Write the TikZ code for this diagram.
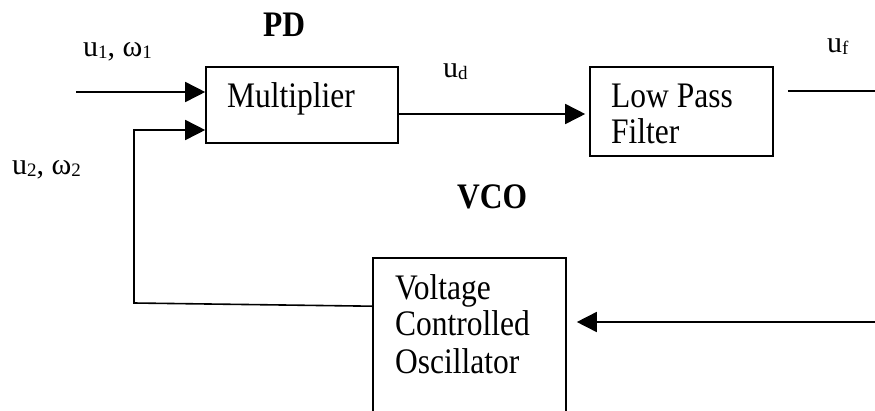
\documentclass[tikz,border=0pt]{standalone}
\usepackage{fontspec}
\setmainfont{Liberation Serif}
\usetikzlibrary{arrows.meta,calc}
\newcommand{\vtxt}[1]{\scalebox{1}[1.14]{#1}}
\newcommand{\sbs}[1]{\raisebox{-2pt}{\fontsize{19}{19}\selectfont #1}}
\tikzset{
  box/.style={draw, line width=1.6pt, inner sep=0pt, rectangle},
  txt/.style={anchor=base west, inner sep=0pt, font=\fontsize{31.5}{37}\selectfont},
  lbl/.style={anchor=base west, inner sep=0pt, font=\fontsize{30}{35}\selectfont},
  ttl/.style={anchor=base west, inner sep=0pt, font=\fontsize{31.5}{37}\selectfont\bfseries},
  wire/.style={line width=1.6pt},
  arr/.style={wire, -{Triangle[length=20pt,width=20pt]}}
}
\begin{document}
\begin{tikzpicture}[x=1pt,y=-1pt]
\clip (0,0) rectangle (875,410);
\fill[white] (0,0) rectangle (875,410);
% boxes
\node[box, minimum width=192pt, minimum height=76pt] (mult) at (302,105) {};
\node[box, minimum width=183pt, minimum height=89pt] (lpf) at (681.5,111.5) {};
\node[box, minimum width=193pt, minimum height=172pt] (vco) at (469.5,344) {};
% box texts
\node[txt] (multt) at (227,107) {\vtxt{Multiplier}};
\node[txt] (lpft1) at (611,107) {\vtxt{Low Pass}};
\node[txt] (lpft2) at (611,143) {\vtxt{Filter}};
\node[txt] (vcot1) at (395,299) {\vtxt{Voltage}};
\node[txt] (vcot2) at (395,335) {\vtxt{Controlled}};
\node[txt] (vcot3) at (395,373) {\vtxt{Oscillator}};
% titles
\node[ttl] (pd) at (263,36) {\vtxt{PD}};
\node[ttl] (vcol) at (457,208) {\vtxt{VCO}};
% labels
\node[lbl] (l1) at (83,56) {u\sbs{1}, ω\sbs{1}};
\node[lbl] (l2) at (12,174) {u\sbs{2}, ω\sbs{2}};
\node[lbl] (ld) at (443,77) {u\sbs{d}};
\node[lbl] (lf) at (827,52) {u\sbs{f}};
% coordinates
\coordinate (in1) at (76,92);
\coordinate (fbout) at ($(vco.north west)+(0,49)$);
\coordinate (fb1) at (134,303);
\coordinate (fb2) at (134,130);
\coordinate (uout) at (875,91);
\coordinate (vin) at (875,322);
% connectors
\draw[arr] (in1) -- (mult.west |- in1);
\draw[arr] (fbout) -- (fb1) -- (fb2) -- (mult.west |- fb2);
\draw[arr] (mult.east |- 0,114) -- ($(lpf.west |- 0,114)+(-4,0)$);
\draw[wire] ($(lpf.east |- uout)+(14,0)$) -- (uout);
\draw[arr] (vin) -- ($(vco.east |- vin)+(10,0)$);
\end{tikzpicture}
\end{document}
